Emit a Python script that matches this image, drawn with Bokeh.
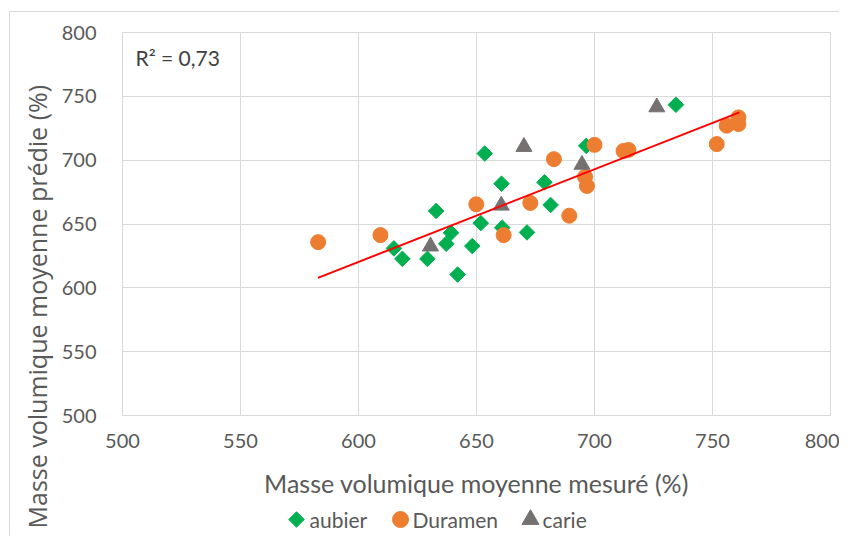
from bokeh.plotting import figure
from bokeh.models import Title, FixedTicker, Label
from bokeh.layouts import column
from bokeh.core.properties import value
from bokeh.embed import file_html
from bokeh.resources import INLINE
import math

# ---- data ----
aubier_x = [615, 618.6, 629.2, 632.9, 639.2, 637.2, 642, 648.2, 651.8, 653.5,
            660.6, 678.8, 681.4, 660.9, 671.4, 696.5, 734.5]
aubier_y = [630.9, 622.7, 622.7, 660.2, 643.1, 634.5, 610.4, 632.7, 650.7, 705.2,
            681.6, 682.7, 664.9, 647.1, 643.4, 711.2, 743.4]
duramen_x = [582.9, 609.3, 649.9, 661.5, 672.8, 682.8, 689.3, 696, 696.8, 700,
             712.3, 714.4, 751.8, 756, 761, 761]
duramen_y = [635.8, 641.3, 665.4, 641.3, 666.5, 700.8, 656.5, 686.9, 679.8, 712,
             707.2, 708, 712.6, 727, 728.3, 733.5]
carie_x = [630.5, 670.1, 660.5, 694.7, 726.4]
carie_y = [632.5, 710.5, 664.5, 696.5, 741.5]
trend_x = [582.8, 761.4]
trend_y = [607.8, 737.4]
ticks = [500, 550, 600, 650, 700, 750, 800]
r2_text = "R² = 0,73"
r2_pos = (505.5, 780.4)
x_title = "Masse volumique moyenne mesuré (%)"
y_title = "Masse volumique moyenne prédie (%)"
series_names = ["aubier", "Duramen", "carie"]

FONT = "Lato"
GRID = "#d9d9d9"
TXT = "#595959"
COLORS = ["#00B050", "#ED7D31", "#767171"]

p = figure(frame_width=707, frame_height=382, x_range=(500, 800), y_range=(500, 800),
           output_backend="svg", toolbar_location=None,
           min_border_left=112, min_border_right=10, min_border_top=20,
           min_border_bottom=122)
p.margin = (11, 0, 0, 9)
p.styles = {"border-left": "1px solid #d9d9d9", "border-top": "1px solid #d9d9d9"}
p.outline_line_color = GRID
p.outline_line_width = 1

for ax in (p.xaxis[0], p.yaxis[0]):
    ax.ticker = FixedTicker(ticks=ticks)
    ax.axis_line_color = None
    ax.major_tick_line_color = None
    ax.minor_tick_line_color = None
    ax.major_label_text_font = FONT
    ax.major_label_text_font_size = "20px"
    ax.major_label_text_color = TXT
p.xaxis[0].major_label_standoff = 12
p.yaxis[0].major_label_standoff = 20
p.xaxis[0].axis_label = x_title
p.xaxis[0].axis_label_text_font = FONT
p.xaxis[0].axis_label_text_font_size = "25px"
p.xaxis[0].axis_label_text_font_style = "normal"
p.xaxis[0].axis_label_text_color = TXT
p.xaxis[0].axis_label_standoff = 17

yt = Title(text=y_title, align="left", offset=-113,
           text_font="Open Sans", text_font_size="25px", text_font_style="normal",
           text_color=TXT, standoff=10)
p.add_layout(yt, "left")

p.xgrid.grid_line_color = GRID
p.ygrid.grid_line_color = GRID
p.xgrid.ticker = FixedTicker(ticks=ticks)
p.ygrid.ticker = FixedTicker(ticks=ticks)

p.scatter(aubier_x, aubier_y, marker="square", angle=math.pi / 4, size=11,
          fill_color=COLORS[0], line_color=COLORS[0])
p.scatter(duramen_x, duramen_y, marker="circle", size=15,
          fill_color=COLORS[1], line_color=COLORS[1])
p.scatter(carie_x, carie_y, marker="triangle", size=16,
          fill_color=COLORS[2], line_color=COLORS[2])
p.line(trend_x, trend_y, line_color="#FF0000", line_width=2)

p.add_layout(Label(x=r2_pos[0], y=r2_pos[1], text=r2_text, text_font=FONT,
                   text_font_size="21px", text_color="#404040",
                   text_baseline="middle"))

# ---- legend strip (pixel coordinates, frame aligned with the main frame) ----
LW = 707
leg = figure(frame_width=LW, frame_height=26, x_range=(0, LW), y_range=(0, 26),
             output_backend="svg", toolbar_location=None,
             x_axis_type=None, y_axis_type=None,
             min_border_left=0, min_border_right=0, min_border_top=0,
             min_border_bottom=0)
leg.margin = (-30, 0, 0, 9)
leg.background_fill_color = None
leg.border_fill_color = None
leg.outline_line_color = None
leg.xgrid.visible = False
leg.ygrid.visible = False
sym_x = [175, 279, 409]
lab_x = [188, 291, 421]
markers = ["square", "circle", "triangle"]
sizes = [11, 16, 17]
angles = [math.pi / 4, 0, 0]
for i in range(3):
    leg.scatter([sym_x[i]], [13], marker=markers[i], size=sizes[i], angle=angles[i],
                fill_color=COLORS[i], line_color=COLORS[i])
leg.text(x=lab_x, y=[13] * 3, text=series_names, text_font=value(FONT),
         text_font_size="21px", text_color=TXT, text_baseline="middle")

layout = column(p, leg, spacing=0)
open("out.html", "w").write(file_html(layout, INLINE))
